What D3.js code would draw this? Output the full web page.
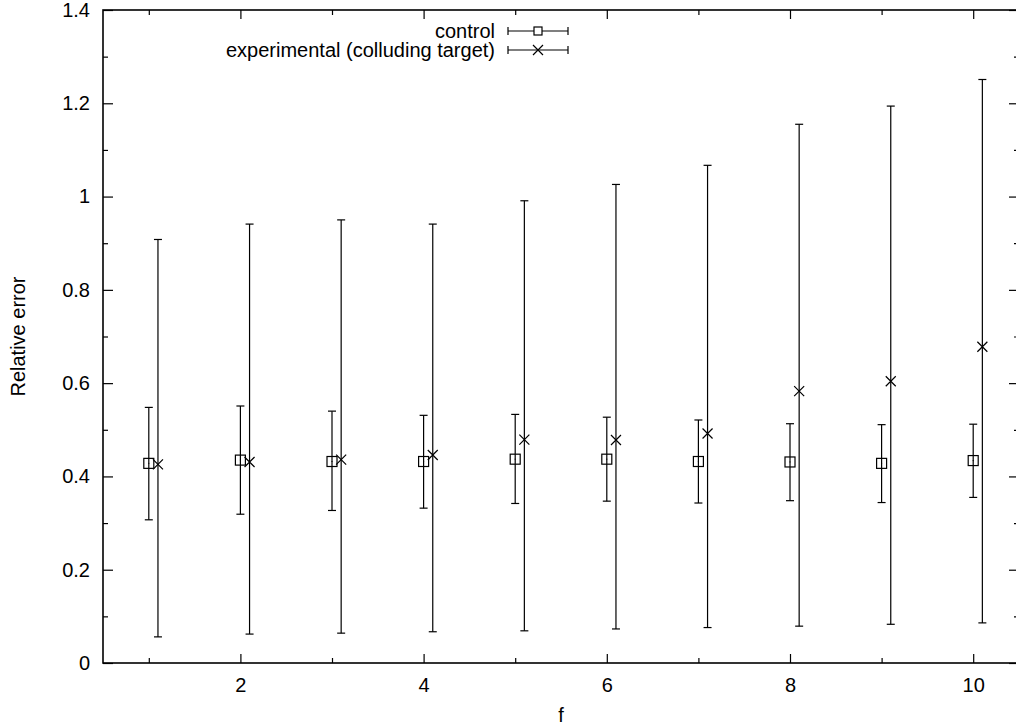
<!DOCTYPE html>
<html>
<head>
<meta charset="utf-8">
<script src="https://cdn.jsdelivr.net/npm/d3@7"></script>
<style>
  body { margin: 0; background: #fff; }
  svg text { font-family: "Liberation Sans", Arial, Helvetica, sans-serif; fill: #000; }
</style>
</head>
<body>
<div id="chart"></div>
<script>
// ---- data ----
const fValues = [1, 2, 3, 4, 5, 6, 7, 8, 9, 10];

// control series (square markers)
const controlMean = [0.428, 0.435, 0.432, 0.432, 0.437, 0.437, 0.432, 0.431, 0.428, 0.434];
const controlHigh = [0.548, 0.551, 0.540, 0.531, 0.533, 0.527, 0.521, 0.513, 0.511, 0.512];
const controlLow  = [0.307, 0.319, 0.327, 0.332, 0.342, 0.347, 0.343, 0.348, 0.344, 0.355];

// experimental (colluding target) series (cross markers), drawn at f + 0.1
const expOffset = 0.1;
const expMean = [0.426, 0.431, 0.436, 0.446, 0.479, 0.478, 0.492, 0.583, 0.604, 0.678];
const expHigh = [0.908, 0.941, 0.950, 0.941, 0.991, 1.026, 1.067, 1.155, 1.194, 1.251];
const expLow  = [0.056, 0.062, 0.064, 0.067, 0.069, 0.073, 0.076, 0.079, 0.083, 0.086];

const xMajorTicks = [2, 4, 6, 8, 10];
const xMinorTicks = [1, 3, 5, 7, 9];
const yMajorTicks = [0, 0.2, 0.4, 0.6, 0.8, 1, 1.2, 1.4];
const yMinorTicks = [0.1, 0.3, 0.5, 0.7, 0.9, 1.1, 1.3];
const yTickLabels = ["0", "0.2", "0.4", "0.6", "0.8", "1", "1.2", "1.4"];

const seriesNames = ["control", "experimental (colluding target)"];

// ---- layout ----
const W = 1016, H = 726;
const plotLeft = 103, plotRight = 1019, plotTop = 10, plotBottom = 663;
const fontSize = 20;

const svg = d3.select("#chart").append("svg")
    .attr("width", W)
    .attr("height", H);

const x = d3.scaleLinear().domain([0.5, 10.5]).range([plotLeft, plotRight]);
const y = d3.scaleLinear().domain([0, 1.4]).range([plotBottom, plotTop]);

// axes: ticks point inward, gnuplot style
function cleanAxis(g) {
    g.select(".domain").remove();
    g.selectAll(".tick line").attr("stroke", "#000").attr("stroke-width", 1.2);
    g.selectAll(".tick text").style("font-size", fontSize + "px");
}

svg.append("g")
    .attr("transform", "translate(0," + plotBottom + ")")
    .call(d3.axisBottom(x).tickValues(xMajorTicks).tickSize(-9).tickPadding(15).tickFormat(d3.format("d")))
    .call(cleanAxis);
svg.append("g")
    .attr("transform", "translate(0," + plotBottom + ")")
    .call(d3.axisBottom(x).tickValues(xMinorTicks).tickSize(-5).tickFormat(""))
    .call(cleanAxis);
svg.append("g")
    .attr("transform", "translate(0," + plotTop + ")")
    .call(d3.axisTop(x).tickValues(xMajorTicks).tickSize(-9).tickFormat(""))
    .call(cleanAxis);
svg.append("g")
    .attr("transform", "translate(0," + plotTop + ")")
    .call(d3.axisTop(x).tickValues(xMinorTicks).tickSize(-5).tickFormat(""))
    .call(cleanAxis);

svg.append("g")
    .attr("transform", "translate(" + plotLeft + ",0)")
    .call(d3.axisLeft(y).tickValues(yMajorTicks).tickSize(-10).tickPadding(13)
        .tickFormat((d, i) => yTickLabels[i]))
    .call(cleanAxis);
svg.append("g")
    .attr("transform", "translate(" + plotLeft + ",0)")
    .call(d3.axisLeft(y).tickValues(yMinorTicks).tickSize(-5).tickFormat(""))
    .call(cleanAxis);
svg.append("g")
    .attr("transform", "translate(" + plotRight + ",0)")
    .call(d3.axisRight(y).tickValues(yMajorTicks).tickSize(-10).tickFormat(""))
    .call(cleanAxis);
svg.append("g")
    .attr("transform", "translate(" + plotRight + ",0)")
    .call(d3.axisRight(y).tickValues(yMinorTicks).tickSize(-5).tickFormat(""))
    .call(cleanAxis);

// border
svg.append("rect")
    .attr("x", plotLeft).attr("y", plotTop)
    .attr("width", plotRight - plotLeft).attr("height", plotBottom - plotTop)
    .attr("fill", "none").attr("stroke", "#000").attr("stroke-width", 1.6);

// axis titles
svg.append("text")
    .attr("x", (plotLeft + plotRight) / 2).attr("y", 722)
    .attr("text-anchor", "middle")
    .style("font-size", fontSize + "px")
    .text("f");
svg.append("text")
    .attr("transform", "translate(25," + ((plotTop + plotBottom) / 2) + ") rotate(-90)")
    .attr("text-anchor", "middle")
    .style("font-size", fontSize + "px")
    .text("Relative error");

// ---- marks ----
const capW = 4;

function errorBars(g, xs, lo, hi) {
    const rows = xs.map((d, i) => ({ x: d, lo: lo[i], hi: hi[i] }));
    const bar = g.selectAll("g.bar").data(rows).enter().append("g").attr("class", "bar");
    bar.append("line")
        .attr("x1", d => x(d.x)).attr("x2", d => x(d.x))
        .attr("y1", d => y(d.lo)).attr("y2", d => y(d.hi));
    bar.append("line")
        .attr("x1", d => x(d.x) - capW).attr("x2", d => x(d.x) + capW)
        .attr("y1", d => y(d.hi)).attr("y2", d => y(d.hi));
    bar.append("line")
        .attr("x1", d => x(d.x) - capW).attr("x2", d => x(d.x) + capW)
        .attr("y1", d => y(d.lo)).attr("y2", d => y(d.lo));
}

function squareMark(g, cx, cy) {
    g.append("rect")
        .attr("x", cx - 5).attr("y", cy - 5)
        .attr("width", 10).attr("height", 10)
        .attr("fill", "none");
    g.append("rect")
        .attr("x", cx - 0.5).attr("y", cy - 0.5)
        .attr("width", 1).attr("height", 1)
        .attr("fill", "#000").attr("stroke", "none");
}

function crossMark(g, cx, cy) {
    const r = 5;
    g.append("path")
        .attr("d", "M" + (cx - r) + "," + (cy - r) + "L" + (cx + r) + "," + (cy + r) +
                   "M" + (cx - r) + "," + (cy + r) + "L" + (cx + r) + "," + (cy - r))
        .attr("fill", "none");
}

const plot = svg.append("g").attr("stroke", "#000").attr("stroke-width", 1.2);

const controlG = plot.append("g");
errorBars(controlG, fValues, controlLow, controlHigh);
fValues.forEach((f, i) => squareMark(controlG, x(f), y(controlMean[i])));

const expX = fValues.map(f => f + expOffset);
const expG = plot.append("g");
errorBars(expG, expX, expLow, expHigh);
expX.forEach((f, i) => crossMark(expG, x(f), y(expMean[i])));

// ---- legend ----
const legendTextX = 495;
const sampleX1 = 508, sampleX2 = 568;
const legendRows = [31, 50];

seriesNames.forEach((name, i) => {
    const ly = legendRows[i];
    svg.append("text")
        .attr("x", legendTextX).attr("y", ly)
        .attr("dy", "0.35em")
        .attr("text-anchor", "end")
        .style("font-size", fontSize + "px")
        .text(name);
    const lg = svg.append("g").attr("stroke", "#000").attr("stroke-width", 1.2);
    lg.append("line").attr("x1", sampleX1).attr("x2", sampleX2).attr("y1", ly).attr("y2", ly);
    lg.append("line").attr("x1", sampleX1).attr("x2", sampleX1).attr("y1", ly - 4).attr("y2", ly + 4);
    lg.append("line").attr("x1", sampleX2).attr("x2", sampleX2).attr("y1", ly - 4).attr("y2", ly + 4);
    const cx = (sampleX1 + sampleX2) / 2;
    if (i === 0) {
        lg.append("rect").attr("x", cx - 4).attr("y", ly - 4).attr("width", 8).attr("height", 8).attr("fill", "#fff");
    } else {
        crossMark(lg, cx, ly);
    }
});
</script>
</body>
</html>
